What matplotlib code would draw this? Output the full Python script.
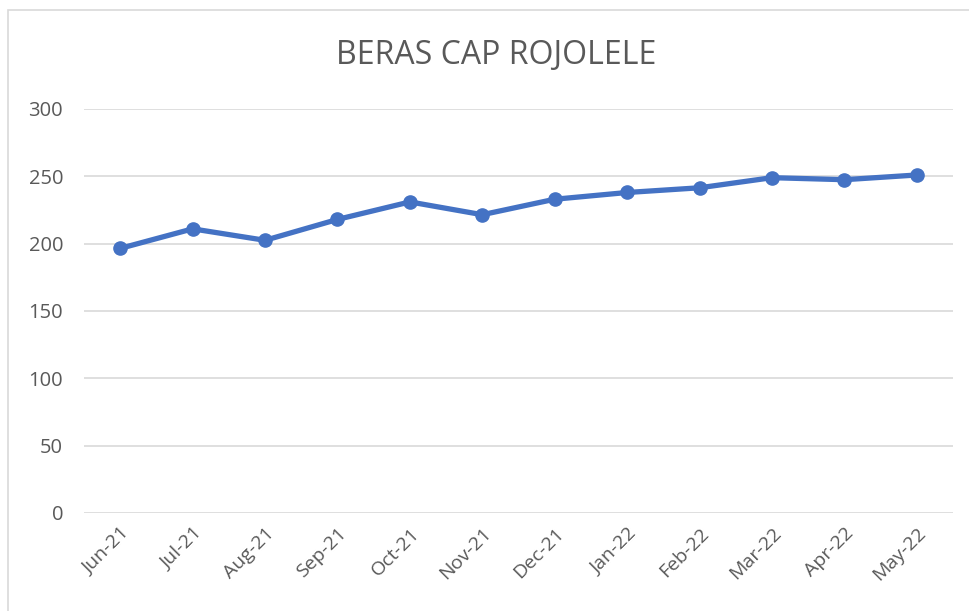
import matplotlib.pyplot as plt
from matplotlib.patches import Rectangle

plt.rcParams['font.family'] = ['Open Sans', 'DejaVu Sans']

# data
months = ["Jun-21", "Jul-21", "Aug-21", "Sep-21", "Oct-21", "Nov-21",
          "Dec-21", "Jan-22", "Feb-22", "Mar-22", "Apr-22", "May-22"]
harga = [196.5, 211, 202.5, 218, 231, 221.5, 233, 238, 241.5, 249, 247.5, 251]
y_ticks = [0, 50, 100, 150, 200, 250, 300]

TEXT = "#595959"
GRID = "#D9D9D9"
LINE = "#4472C4"

fig = plt.figure(figsize=(9.69, 6.11), dpi=100)
ax = fig.add_axes([84 / 969, 1 - 513 / 611, (953 - 84) / 969, (513 - 109) / 611])

# chart area border (Excel style)
fig.patches.append(Rectangle((8 / 969, -0.01), 1.0, 1 - 10 / 611 + 0.01,
                             transform=fig.transFigure, fill=False,
                             edgecolor=GRID, linewidth=1.2))

x = [i + 0.5 for i in range(len(months))]
ax.plot(x, harga, color=LINE, linewidth=3.8, marker="o", markersize=9.5,
        solid_capstyle="round", zorder=3)

ax.set_xlim(0, len(months))
ax.set_ylim(0, 300)
ax.set_yticks(y_ticks)
ax.set_xticks(x)
ax.set_xticklabels(months, rotation=45, ha="right", rotation_mode="anchor")

ax.tick_params(axis="y", length=0, pad=15, labelsize=14.5, labelcolor=TEXT)
ax.tick_params(axis="x", length=0, pad=8, labelsize=14, labelcolor=TEXT)
ax.grid(axis="y", color=GRID, linewidth=1.2)
ax.set_axisbelow(True)
for s in ax.spines.values():
    s.set_visible(False)

fig.text(496 / 969, 1 - 55 / 611, "BERAS CAP ROJOLELE", ha="center", va="center",
         fontsize=23, color=TEXT)

fig.savefig("out.png", dpi=100)
